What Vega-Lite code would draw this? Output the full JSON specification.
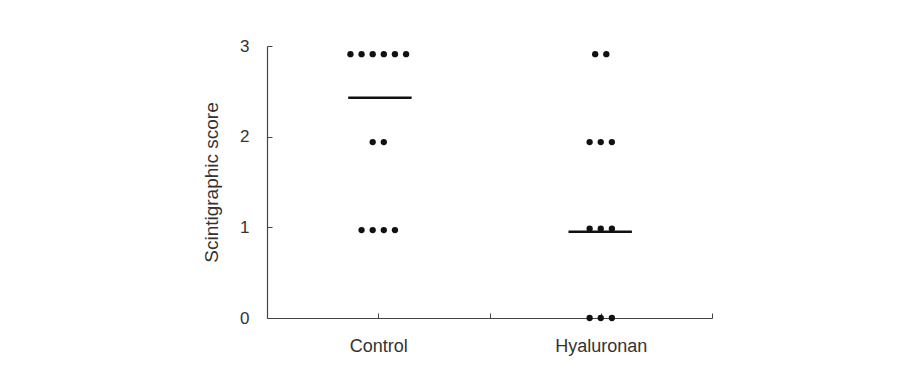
{
  "$schema": "https://vega.github.io/schema/vega-lite/v6.json",
  "autosize": {"type": "none"},
  "width": 445,
  "height": 272,
  "padding": {"left": 267, "top": 46, "right": 196, "bottom": 64},
  "background": "white",
  "config": {
    "view": {"stroke": null},
    "font": "Liberation Sans",
    "axis": {
      "grid": false,
      "domainColor": "#444",
      "tickColor": "#444",
      "labelColor": "#333",
      "titleColor": "#333",
      "labelFont": "Liberation Sans",
      "titleFont": "Liberation Sans",
      "titleFontWeight": "normal",
      "domainWidth": 1.2,
      "tickWidth": 1
    }
  },
  "datasets": {
    "dots": [
      {"group": "Control", "pos": 0.75, "score": 2.91},
      {"group": "Control", "pos": 0.85, "score": 2.91},
      {"group": "Control", "pos": 0.95, "score": 2.91},
      {"group": "Control", "pos": 1.05, "score": 2.91},
      {"group": "Control", "pos": 1.15, "score": 2.91},
      {"group": "Control", "pos": 1.25, "score": 2.91},
      {"group": "Control", "pos": 0.95, "score": 1.94},
      {"group": "Control", "pos": 1.05, "score": 1.94},
      {"group": "Control", "pos": 0.85, "score": 0.97},
      {"group": "Control", "pos": 0.95, "score": 0.97},
      {"group": "Control", "pos": 1.05, "score": 0.97},
      {"group": "Control", "pos": 1.15, "score": 0.97},
      {"group": "Hyaluronan", "pos": 2.95, "score": 2.91},
      {"group": "Hyaluronan", "pos": 3.05, "score": 2.91},
      {"group": "Hyaluronan", "pos": 2.9, "score": 1.94},
      {"group": "Hyaluronan", "pos": 3.0, "score": 1.94},
      {"group": "Hyaluronan", "pos": 3.1, "score": 1.94},
      {"group": "Hyaluronan", "pos": 2.9, "score": 0.985},
      {"group": "Hyaluronan", "pos": 3.0, "score": 0.985},
      {"group": "Hyaluronan", "pos": 3.1, "score": 0.985},
      {"group": "Hyaluronan", "pos": 2.9, "score": 0},
      {"group": "Hyaluronan", "pos": 3.0, "score": 0},
      {"group": "Hyaluronan", "pos": 3.1, "score": 0}
    ],
    "means": [
      {"group": "Control", "start": 0.73, "end": 1.3, "mean": 2.43},
      {"group": "Hyaluronan", "start": 2.71, "end": 3.28, "mean": 0.952}
    ]
  },
  "layer": [
    {
      "data": {"name": "dots"},
      "mark": {"type": "circle", "size": 40, "opacity": 1, "color": "#111", "clip": false},
      "encoding": {
        "x": {
          "field": "pos", "type": "quantitative",
          "scale": {"domain": [0, 4], "nice": false, "zero": false},
          "axis": {
            "title": null,
            "values": [1, 2, 3, 4],
            "tickSize": -5,
            "labelPadding": 24,
            "labelFontSize": 18,
            "labelExpr": "datum.value == 1 ? 'Control' : datum.value == 3 ? 'Hyaluronan' : ''"
          }
        },
        "y": {
          "field": "score", "type": "quantitative",
          "scale": {"domain": [0, 3], "nice": false},
          "axis": {
            "title": "Scintigraphic score",
            "values": [0, 1, 2, 3],
            "format": "d",
            "tickSize": -5,
            "labelPadding": 23,
            "labelFontSize": 17,
            "titleFontSize": 19,
            "titlePadding": 18
          }
        }
      }
    },
    {
      "data": {"name": "means"},
      "mark": {"type": "rule", "color": "#111", "strokeWidth": 2.5},
      "encoding": {
        "x": {"field": "start", "type": "quantitative"},
        "x2": {"field": "end"},
        "y": {"field": "mean", "type": "quantitative"}
      }
    }
  ]
}
